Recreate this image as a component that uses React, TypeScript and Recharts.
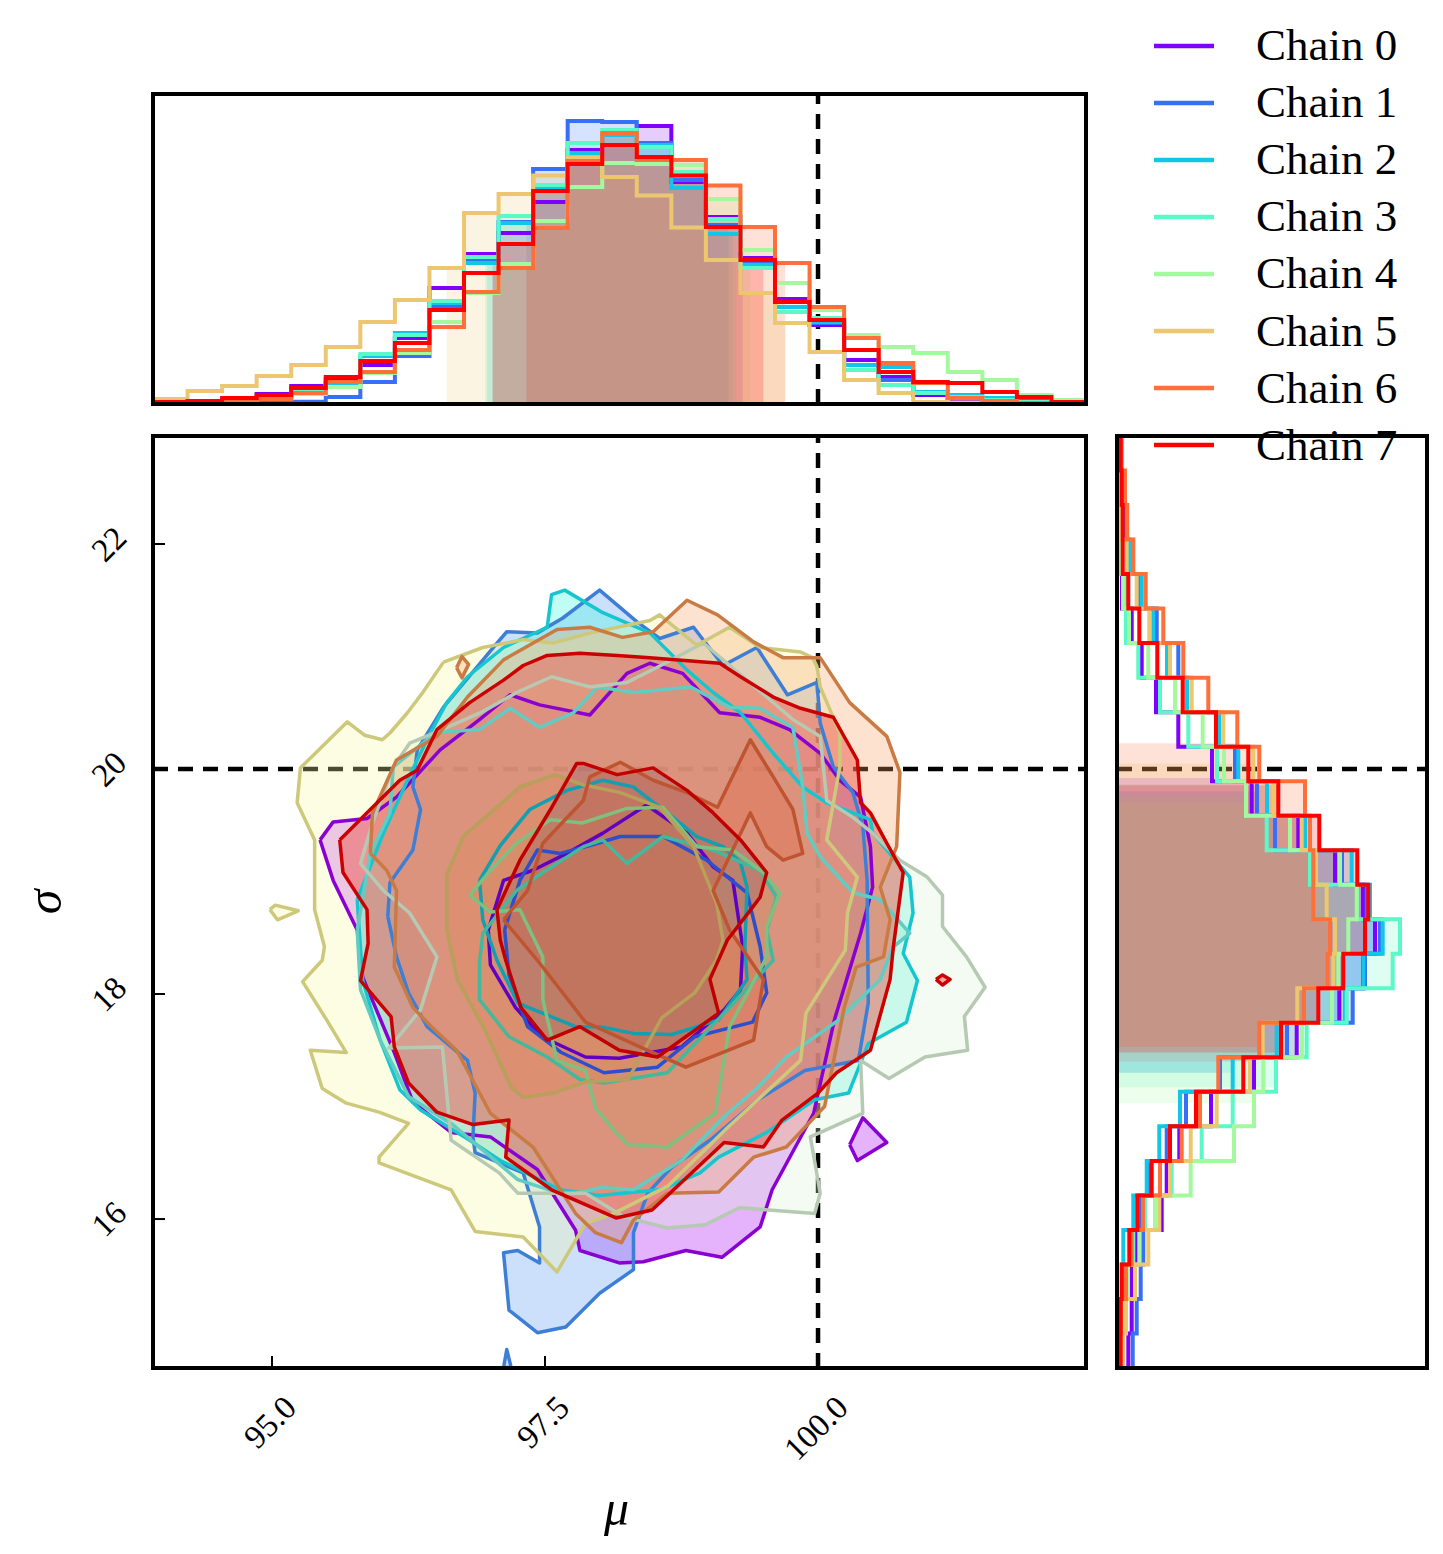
import React from 'react';
import { ScatterChart, Scatter, XAxis, YAxis, ReferenceLine, Legend } from 'recharts';

const SERIF = '"Liberation Serif", "Times New Roman", serif';

// ---------- data ----------
const CHAIN_NAMES = ['Chain 0', 'Chain 1', 'Chain 2', 'Chain 3', 'Chain 4', 'Chain 5', 'Chain 6', 'Chain 7'];
const MU_DOMAIN: [number, number] = [93.91, 102.454];
const SIGMA_DOMAIN: [number, number] = [14.676, 22.96];
const BIN_COUNT = 27;
const MU_TICKS = [95, 97.5, 100];
const SIGMA_TICKS = [16, 18, 20, 22];
const TRUTH_MU = 100;
const TRUTH_SIGMA = 20;
const COUNT_MAX = 310;

// marginal of mu, 27 bins from left to right
const muHist0 = [0.5, 1, 4, 10, 18, 25, 39, 66, 116, 150, 171, 202, 254, 269, 278, 222, 187, 146, 105, 79, 44, 27, 9, 2, 2, 1, 0];
const muHist1 = [0.5, 1, 2, 2, 2.3, 7, 22, 48, 97, 144, 182, 235, 283, 282, 261, 224, 179, 142, 102, 81, 39, 24, 12, 6, 5, 3, 1];
const muHist2 = [0.5, 1, 2, 7, 12, 21, 48, 71, 101, 141, 181, 217, 251, 269, 259, 216, 170, 139, 97, 82, 39, 37, 12, 9, 6, 2, 0.5];
const muHist3 = [0.5, 1, 2, 7, 12, 22, 50, 69, 103, 147, 188, 219, 261, 274, 257, 232, 185, 136, 92, 86, 34, 19, 11, 7, 4, 2, 0.5];
const muHist4 = [0.5, 1, 1.5, 5, 10, 17, 31, 51, 82, 111, 140, 183, 217, 241, 240, 239, 205, 154, 121, 94, 69, 57, 51, 32, 24, 9, 4];
const muHist5 = [5, 13, 18, 28, 39, 57, 82, 104, 136, 191, 210, 228.5, 246, 227, 208.5, 176.5, 144, 111, 81, 52, 24, 11, 2, 1.5, 1, 0.5, 0.5];
const muHist6 = [0.5, 2, 3, 5, 11, 22, 32, 54, 77, 112, 136, 176, 243, 271, 244, 244, 218.5, 177, 141, 97, 66, 41, 21, 6, 3, 1, 0.5];
const muHist7 = [2, 3, 6, 9, 16, 27, 43, 61, 94, 131, 160, 213, 240, 259, 247, 228.5, 177, 144, 102, 84, 54, 32, 22, 21, 12, 7, 2];

// marginal of sigma, 27 bins from bottom to top
const sigmaHist0 = [11.3, 14.7, 14.7, 19.7, 44.7, 49.7, 62.3, 94, 137, 179.7, 222.3, 246, 258, 246, 218, 181.3, 134.7, 95, 61.3, 39, 24.7, 14.7, 5, 4, 3, 2, 1];
const sigmaHist1 = [15.7, 19.7, 23.7, 26.3, 23, 33, 49.7, 69, 103, 170, 235.7, 248, 263, 249.7, 225, 158, 140, 118, 100, 69.7, 61.3, 39.7, 22, 11, 7, 3, 1.5];
const sigmaHist2 = [3, 4, 5, 6.3, 16.3, 29.7, 42.3, 63, 115.7, 159.7, 228, 246.3, 265.7, 253, 234.7, 188, 150, 121.3, 102.3, 70, 50, 36.3, 24.7, 13, 5, 3, 1.5];
const sigmaHist3 = [3, 5, 10, 16.3, 28, 54.7, 84.7, 115.7, 159, 189.7, 229.7, 275.7, 283, 240, 193, 149.7, 129, 100, 71.3, 43, 21.3, 9, 8, 4, 3, 2, 1];
const sigmaHist4 = [3, 5, 11, 22.3, 38, 73.7, 117, 137, 146.3, 185, 215, 221.3, 231.3, 239.7, 223, 173, 129, 107, 85.7, 58, 31.3, 12, 6, 5, 3, 2, 1];
const sigmaHist5 = [6.3, 9, 18, 31.3, 42.3, 53, 73.7, 99.7, 133, 145.7, 180.3, 216.3, 218, 209.7, 199, 184.7, 156.3, 136.3, 106.3, 74.7, 53, 32.3, 19.7, 9.7, 4, 3, 2];
const sigmaHist6 = [2, 4, 9, 14.7, 26, 43, 64.7, 83, 101.3, 142.3, 187, 210.7, 213, 196.3, 196.3, 193, 188, 142.3, 120.3, 91.3, 66.3, 46.3, 28.7, 16.3, 10.3, 8, 4.7];
const sigmaHist7 = [3.7, 3.7, 4.7, 12.3, 20.3, 34.7, 53, 79, 126.3, 164, 201.3, 226.3, 248, 251.3, 240.3, 202.3, 161.3, 131.3, 99, 65.7, 40.3, 22.3, 11.3, 5.7, 5.7, 4.7, 3.7];

// shaded credible intervals of the marginals
const muLo = [97.02, 97.33, 96.97, 96.95, 97.02, 96.6, 97.33, 97.02];
const muHi = [99.31, 99.18, 99.22, 99.25, 99.38, 99.7, 99.7, 99.5];
const sigmaLo = [17.4, 17.3, 17.3, 17.17, 17.03, 17.4, 17.53, 17.48];
const sigmaHi = [19.92, 19.8, 19.85, 19.75, 19.7, 20.05, 20.23, 19.86];

// 2D contours [mu, sigma]
const c0Outer = [[95.44, 19.37], [95.56, 19.53], [95.87, 19.56], [96.14, 19.75], [96.54, 20.17], [96.9, 20.44], [97.18, 20.66], [97.45, 20.57], [97.91, 20.48], [98.25, 20.85], [98.46, 20.94], [98.76, 20.85], [99.1, 20.5], [99.47, 20.46], [99.74, 20.35], [100.02, 20.14], [100.2, 19.9], [100.39, 19.75], [100.48, 19.31], [100.5, 18.95], [100.39, 18.54], [100.15, 17.77], [99.96, 16.94], [99.58, 16.26], [99.47, 15.93], [99.12, 15.66], [98.79, 15.72], [98.4, 15.62], [98.18, 15.61], [97.82, 15.72], [97.78, 15.9], [97.43, 16.44], [97.0, 16.73], [96.64, 16.77], [96.29, 17.04], [96.12, 17.48], [95.83, 18.15], [95.78, 18.57], [95.56, 19.01]];
const c0Inner = [[96.98, 18.57], [97.12, 19.01], [97.39, 19.1], [97.7, 19.25], [98.03, 19.43], [98.43, 19.68], [98.8, 19.43], [99.04, 19.13], [99.22, 19.01], [99.31, 18.42], [99.29, 18.04], [99.14, 17.86], [98.75, 17.53], [98.18, 17.43], [97.87, 17.44], [97.47, 17.62], [97.23, 17.88], [97.0, 18.26]];
const c0Island = [[100.29, 16.66], [100.41, 16.9], [100.63, 16.68], [100.36, 16.52]];
const c1Outer = [[96.06, 18.69], [96.08, 18.99], [96.29, 19.28], [96.36, 19.64], [96.29, 19.84], [96.33, 20.17], [96.57, 20.55], [96.75, 20.76], [97.06, 21.12], [97.15, 21.22], [97.43, 21.21], [97.66, 21.34], [98.0, 21.59], [98.34, 21.31], [98.55, 21.16], [98.86, 21.26], [99.13, 20.92], [99.44, 21.08], [99.72, 20.66], [99.99, 20.77], [100.02, 20.41], [100.14, 20.02], [100.32, 19.79], [100.41, 19.49], [100.45, 19.01], [100.46, 17.92], [100.37, 17.41], [99.88, 17.32], [99.45, 17.06], [99.01, 16.7], [98.66, 16.46], [98.44, 16.23], [98.31, 15.88], [98.31, 15.55], [98.0, 15.34], [97.69, 15.04], [97.43, 14.99], [97.17, 15.19], [97.12, 15.7], [97.25, 15.72], [97.45, 15.61], [97.45, 15.93], [97.3, 16.41], [96.86, 16.59], [96.84, 16.73], [96.86, 17.12], [96.79, 17.41], [96.42, 17.71], [96.25, 18.01], [96.14, 18.33]];
const c1Inner = [[97.13, 18.57], [97.27, 19.01], [97.43, 19.28], [97.64, 19.25], [97.91, 19.32], [98.19, 19.4], [98.58, 19.4], [98.98, 19.19], [99.35, 18.9], [99.47, 18.42], [99.53, 18.01], [99.4, 17.75], [98.87, 17.62], [98.53, 17.35], [98.04, 17.3], [97.65, 17.48], [97.34, 17.71], [97.17, 18.17]];
const c1Island = [[97.12, 14.68], [97.15, 14.84], [97.19, 14.68]];
const c2Outer = [[95.78, 18.84], [96.02, 19.43], [96.24, 19.9], [96.45, 20.32], [96.6, 20.59], [96.79, 20.82], [97.12, 21.08], [97.52, 21.26], [97.56, 21.55], [97.68, 21.59], [98.03, 21.39], [98.46, 21.21], [98.8, 20.88], [99.04, 20.68], [99.29, 20.5], [99.59, 20.14], [99.86, 19.84], [100.08, 19.7], [100.48, 19.55], [100.5, 19.43], [100.84, 19.04], [100.87, 18.72], [100.78, 18.36], [100.91, 18.12], [100.81, 17.75], [100.46, 17.56], [100.28, 17.12], [99.97, 17.06], [99.53, 16.77], [99.09, 16.55], [98.92, 16.41], [98.55, 16.26], [98.0, 16.21], [97.64, 16.26], [97.09, 16.52], [96.81, 16.7], [96.36, 16.97], [96.17, 17.15], [95.99, 17.59], [95.83, 18.12]];
const c2Inner = [[96.9, 19.01], [97.09, 19.32], [97.36, 19.64], [97.7, 19.81], [98.03, 19.9], [98.31, 19.84], [98.62, 19.61], [98.89, 19.4], [99.13, 19.31], [99.29, 19.17], [99.35, 18.95], [99.33, 18.42], [99.35, 18.13], [99.09, 17.77], [98.66, 17.64], [98.31, 17.65], [98.0, 17.71], [97.78, 17.71], [97.25, 17.92], [97.06, 18.3], [96.93, 18.66]];
const c3Outer = [[95.78, 18.57], [95.9, 19.25], [96.08, 19.61], [96.11, 20.02], [96.51, 20.33], [96.9, 20.35], [97.18, 20.54], [97.45, 20.37], [97.76, 20.5], [97.98, 20.73], [98.31, 20.68], [98.83, 20.73], [99.19, 20.55], [99.47, 20.54], [99.77, 20.37], [99.86, 19.84], [99.9, 19.43], [100.02, 19.22], [100.32, 18.9], [100.57, 18.84], [100.84, 18.54], [100.69, 18.42], [100.57, 18.13], [100.19, 17.77], [99.71, 17.44], [99.45, 17.17], [99.14, 16.91], [98.75, 16.52], [98.31, 16.26], [98.02, 16.28], [97.69, 16.21], [97.25, 16.35], [96.64, 16.85], [96.25, 17.09], [95.99, 17.59], [95.81, 18.04]];
const c3Inner = [[96.9, 18.28], [96.93, 18.54], [97.24, 18.92], [97.48, 19.08], [97.85, 19.31], [98.03, 19.37], [98.25, 19.16], [98.58, 19.4], [99.04, 19.28], [99.47, 19.1], [99.62, 18.86], [99.53, 18.57], [99.59, 18.3], [99.19, 17.88], [98.62, 17.3], [98.04, 17.21], [97.82, 17.24], [97.52, 17.44], [97.17, 17.62], [96.9, 17.95]];
const c4Outer = [[96.11, 20.02], [96.26, 20.23], [96.51, 20.33], [96.93, 20.51], [97.24, 20.68], [97.56, 20.82], [97.91, 20.73], [98.25, 20.77], [98.52, 20.9], [98.95, 21.12], [99.24, 20.88], [99.53, 20.64], [99.77, 20.44], [100.02, 20.29], [100.08, 19.72], [100.32, 19.57], [100.5, 19.43], [100.75, 19.19], [101.0, 19.04], [101.14, 18.88], [101.14, 18.6], [101.36, 18.33], [101.53, 18.06], [101.34, 17.8], [101.37, 17.5], [100.98, 17.44], [100.65, 17.25], [100.39, 17.41], [100.41, 16.94], [99.93, 16.73], [100.02, 16.23], [99.97, 16.05], [99.28, 16.1], [98.97, 15.95], [98.62, 15.92], [98.22, 16.02], [97.87, 16.23], [97.25, 16.23], [97.08, 16.41], [96.64, 16.7], [96.56, 17.53], [96.07, 17.52], [96.36, 17.86], [96.51, 18.33], [96.26, 18.72], [96.02, 18.92], [95.81, 19.16], [95.92, 19.52]];
const c4Inner = [[96.81, 18.88], [97.0, 19.1], [97.24, 19.34], [97.55, 19.55], [97.84, 19.52], [98.25, 19.65], [98.58, 19.66], [98.89, 19.31], [99.22, 19.28], [99.5, 19.08], [99.65, 18.9], [99.53, 18.6], [99.53, 18.33], [99.19, 17.71], [99.06, 16.94], [98.62, 16.64], [98.26, 16.66], [98.13, 16.79], [97.96, 16.99], [97.87, 17.32], [97.61, 17.41], [97.48, 17.95], [97.48, 18.33], [97.27, 18.75], [97.0, 18.73]];
const c5Outer = [[96.57, 20.95], [96.93, 21.08], [97.3, 21.15], [97.57, 21.12], [97.92, 21.21], [98.46, 21.32], [98.55, 21.37], [98.89, 21.1], [99.19, 21.26], [99.47, 21.08], [99.84, 21.04], [99.95, 20.99], [99.99, 20.91], [100.02, 20.73], [100.2, 20.32], [100.2, 20.02], [100.08, 19.37], [100.36, 19.04], [100.27, 18.72], [100.25, 18.39], [99.89, 17.83], [99.84, 17.41], [99.18, 16.82], [98.62, 16.29], [98.13, 16.05], [97.87, 15.96], [97.61, 15.53], [97.3, 15.84], [96.86, 15.89], [96.64, 16.26], [95.98, 16.5], [95.98, 16.55], [96.25, 16.85], [95.98, 16.95], [95.68, 17.03], [95.46, 17.16], [95.35, 17.5], [95.68, 17.48], [95.5, 17.77], [95.28, 18.11], [95.46, 18.3], [95.48, 18.42], [95.39, 18.75], [95.39, 19.37], [95.23, 19.7], [95.26, 20.01], [95.69, 20.42], [95.85, 20.3], [96.01, 20.26], [96.08, 20.32], [96.24, 20.5], [96.38, 20.68]];
const c5Inner = [[96.6, 19.06], [96.75, 19.4], [97.0, 19.61], [97.27, 19.84], [97.59, 19.95], [97.85, 19.86], [98.19, 19.79], [98.55, 19.66], [98.86, 19.31], [99.07, 18.81], [99.13, 18.48], [99.07, 18.3], [98.87, 18.01], [98.57, 17.79], [98.26, 17.24], [97.87, 17.22], [97.58, 17.12], [97.3, 17.08], [97.19, 17.17], [96.95, 17.68], [96.7, 18.12], [96.6, 18.57]];
const c5Island = [[94.98, 18.75], [95.03, 18.79], [95.24, 18.74], [95.05, 18.66]];
const c6Outer = [[95.9, 19.25], [95.92, 19.61], [96.14, 20.08], [96.51, 20.29], [96.79, 20.64], [97.12, 20.97], [97.61, 21.24], [97.91, 21.26], [98.21, 21.17], [98.49, 21.22], [98.8, 21.5], [99.08, 21.37], [99.41, 21.13], [99.68, 20.99], [100.02, 20.99], [100.29, 20.59], [100.63, 20.29], [100.75, 19.97], [100.72, 19.31], [100.57, 18.95], [100.66, 18.66], [100.6, 18.33], [100.35, 18.24], [100.24, 17.88], [100.06, 17.0], [99.71, 16.64], [99.41, 16.55], [99.09, 16.24], [98.62, 16.23], [98.31, 15.99], [98.2, 15.79], [97.96, 15.88], [97.78, 16.05], [97.39, 16.64], [97.0, 16.94], [96.69, 17.5], [96.46, 17.71], [96.29, 17.88], [96.12, 18.24], [96.14, 18.92], [96.05, 19.1]];
const c6Inner = [[97.12, 18.66], [97.34, 18.92], [97.48, 19.34], [97.85, 19.72], [97.91, 19.93], [98.19, 20.06], [98.49, 19.9], [98.8, 19.79], [99.08, 19.66], [99.38, 20.26], [99.59, 19.93], [99.77, 19.64], [99.86, 19.25], [99.68, 19.19], [99.53, 19.31], [99.38, 19.61], [99.04, 18.92], [99.19, 18.57], [99.5, 18.13], [99.41, 17.59], [98.79, 17.35], [98.44, 17.5], [97.87, 17.75], [97.43, 18.3]];
const c6Island = [[96.69, 20.9], [96.74, 21.0], [96.8, 20.93], [96.74, 20.81]];
const c7Outer = [[95.62, 19.37], [95.9, 19.64], [96.17, 19.9], [96.33, 19.99], [96.51, 20.35], [96.81, 20.59], [97.12, 20.79], [97.3, 20.92], [97.52, 21.01], [97.82, 21.03], [98.16, 21.01], [98.46, 20.99], [99.1, 20.94], [99.29, 20.82], [99.59, 20.64], [99.84, 20.54], [100.14, 20.46], [100.36, 20.08], [100.39, 19.7], [100.48, 19.61], [100.63, 19.34], [100.78, 19.08], [100.69, 18.42], [100.66, 18.13], [100.48, 17.5], [100.17, 17.3], [100.0, 17.12], [99.67, 16.88], [99.5, 16.64], [99.14, 16.68], [98.48, 16.08], [98.15, 16.01], [97.56, 16.26], [97.14, 16.55], [97.17, 16.88], [96.84, 16.84], [96.51, 16.95], [96.25, 17.21], [96.12, 17.53], [96.09, 17.8], [95.81, 18.12], [95.88, 18.45], [95.87, 18.75], [95.65, 19.08]];
const c7Inner = [[97.06, 18.75], [97.27, 19.19], [97.55, 19.64], [97.79, 20.05], [97.85, 20.05], [98.16, 19.95], [98.49, 20.01], [98.8, 19.81], [99.04, 19.61], [99.29, 19.37], [99.53, 19.08], [99.47, 18.86], [99.4, 18.77], [99.17, 18.48], [99.01, 18.13], [99.09, 17.83], [98.53, 17.44], [98.18, 17.5], [97.82, 17.71], [97.52, 17.59], [97.28, 17.88], [97.14, 18.3], [97.09, 18.48]];
const c7Island = [[101.08, 18.13], [101.14, 18.17], [101.21, 18.13], [101.14, 18.08]];

// ---------- styles ----------
const LINE_COLORS = ['#8000ff', '#376ff9', '#12c7e6', '#5bf9c7', '#a4f99f', '#edc76f', '#ff6f39', '#ff0000'];
const EDGE_OUTER = ['#8a00d2', '#3d7fd6', '#16c6cf', '#62cbc2', '#b6c9b2', '#cec87a', '#c97b43', '#cc0000'];
const EDGE_INNER = ['#6000c0', '#2d4fcc', '#129fb0', '#43b89c', '#7fbf7f', '#b89f5a', '#bf5530', '#c00000'];
const FILL_OUTER = ['rgb(170,0,245)', 'rgb(85,152,245)', 'rgb(45,250,220)', 'rgb(90,230,200)', 'rgb(218,243,212)', 'rgb(250,250,165)', 'rgb(250,160,95)', 'rgb(235,90,80)'];
const FILL_INNER = ['rgb(120,0,220)', 'rgb(40,100,230)', 'rgb(0,200,210)', 'rgb(40,200,160)', 'rgb(120,200,120)', 'rgb(210,190,90)', 'rgb(220,110,50)', 'rgb(120,80,100)'];
const ALPHA_OUTER = [0.3, 0.3, 0.3, 0.3, 0.3, 0.3, 0.3, 0.5];
const ALPHA_INNER = [0.3, 0.3, 0.3, 0.3, 0.3, 0.3, 0.3, 0.25];

// ---------- layout (page pixels) ----------
const PAGE_W = 1443;
const PAGE_H = 1554;
const TOP_CHART_H = 420;
const PLOT_L = 153;
const PLOT_R = 1086;
const HIST_T = 94;
const HIST_B = 404;
const MAIN_T = 436;
const MAIN_B = 1368;
const SIDE_L = 1117;
const SIDE_R = 1427;
const MAIN_CHART_W = 1100;
const MAIN_CHART_H = PAGE_H - TOP_CHART_H;
const HIST_STROKE = 4;
const CONTOUR_STROKE = 3.5;
const TICK_FONT = 33;
const DASH = { stroke: '#000', strokeWidth: 4.5, strokeDasharray: '15 10' };

const MU_HISTS = [muHist0, muHist1, muHist2, muHist3, muHist4, muHist5, muHist6, muHist7];
const SIGMA_HISTS = [sigmaHist0, sigmaHist1, sigmaHist2, sigmaHist3, sigmaHist4, sigmaHist5, sigmaHist6, sigmaHist7];
const CONTOURS = [
  { outer: c0Outer, inner: c0Inner, islands: [c0Island] },
  { outer: c1Outer, inner: c1Inner, islands: [c1Island] },
  { outer: c2Outer, inner: c2Inner, islands: [] },
  { outer: c3Outer, inner: c3Inner, islands: [] },
  { outer: c4Outer, inner: c4Inner, islands: [] },
  { outer: c5Outer, inner: c5Inner, islands: [c5Island] },
  { outer: c6Outer, inner: c6Inner, islands: [c6Island] },
  { outer: c7Outer, inner: c7Inner, islands: [c7Island] },
];

const edgesOf = (domain: [number, number]) =>
  Array.from({ length: BIN_COUNT + 1 }, (_, i) => domain[0] + ((domain[1] - domain[0]) * i) / BIN_COUNT);
const MU_EDGES = edgesOf(MU_DOMAIN);
const SIGMA_EDGES = edgesOf(SIGMA_DOMAIN);

// step outline of a histogram: [position, count] pairs
function stepOutline(edges: number[], counts: number[]) {
  const pts: number[][] = [[edges[0], 0]];
  counts.forEach((c, i) => {
    pts.push([edges[i], c], [edges[i + 1], c]);
  });
  pts.push([edges[edges.length - 1], 0]);
  return pts;
}

// area under the histogram between lo and hi
function stepFill(edges: number[], counts: number[], lo: number, hi: number) {
  const w = edges[1] - edges[0];
  const at = (v: number) => counts[Math.min(counts.length - 1, Math.max(0, Math.floor((v - edges[0]) / w)))];
  const pts: number[][] = [[lo, 0], [lo, at(lo)]];
  edges.forEach((e, i) => {
    if (e > lo && e < hi) pts.push([e, counts[i - 1]], [e, counts[i]]);
  });
  pts.push([hi, at(hi)], [hi, 0]);
  return pts;
}

const asXY = (pts: number[][]) => pts.map(([x, y]) => ({ x, y }));
const asYX = (pts: number[][]) => pts.map(([y, x]) => ({ x, y }));
const closed = (pts: number[][]) => asXY([...pts, pts[0]]);

const NoDot = () => <g />;

const MuTick = (props: any) => {
  const { x, payload } = props;
  const label = Number(payload.value).toFixed(1);
  const fs = TICK_FONT;
  const w = ((label.length - 1) * 0.5 + 0.25) * fs;
  const half = ((w + 0.66 * fs) * Math.SQRT1_2) / 2;
  const cy = MAIN_B - TOP_CHART_H + 26 + half;
  return (
    <text x={x - 2} y={cy} transform={`rotate(-45 ${x - 2} ${cy})`} textAnchor="middle" dominantBaseline="central"
      fontFamily={SERIF} fontSize={fs} fill="#000">{label}</text>
  );
};

const SigmaTick = (props: any) => {
  const { y, payload } = props;
  const cx = 109;
  return (
    <text x={cx} y={y} transform={`rotate(-45 ${cx} ${y})`} textAnchor="middle" dominantBaseline="central"
      fontFamily={SERIF} fontSize={TICK_FONT} fill="#000">{String(payload.value)}</text>
  );
};

const muLabel = (props: any) => {
  const vb = props.viewBox || { x: PLOT_L, y: MAIN_B - TOP_CHART_H, width: PLOT_R - PLOT_L, height: PAGE_H - MAIN_B };
  return (
    <text x={vb.x + vb.width / 2 - 3} y={vb.y + vb.height - 29} textAnchor="middle" fontFamily={SERIF}
      fontStyle="italic" fontSize={50} fill="#000">μ</text>
  );
};

const sigmaLabel = (props: any) => {
  const vb = props.viewBox || { x: 0, y: MAIN_T - TOP_CHART_H, width: PLOT_L, height: MAIN_B - MAIN_T };
  const cx = 44;
  const cy = vb.y + vb.height / 2;
  return (
    <text x={cx} y={cy} transform={`rotate(-90 ${cx} ${cy})`} textAnchor="middle" dominantBaseline="central"
      fontFamily={SERIF} fontStyle="italic" fontSize={50} fill="#000">σ</text>
  );
};

const LegendBox = (props: any) => {
  const fromChart = (props.payload || [])
    .filter((p: any) => p.type !== 'none' && CHAIN_NAMES.includes(String(p.value)))
    .map((p: any) => ({ name: String(p.value), color: p.color }));
  const items = (fromChart.length ? fromChart : CHAIN_NAMES.map((name, i) => ({ name, color: LINE_COLORS[i] })))
    .sort((a: any, b: any) => CHAIN_NAMES.indexOf(a.name) - CHAIN_NAMES.indexOf(b.name));
  return (
    <div style={{ fontFamily: SERIF, fontSize: 45, color: '#000' }}>
      {items.map((it: any) => (
        <div key={it.name} style={{ display: 'flex', alignItems: 'center', height: 57.1 }}>
          <svg width={60} height={6} style={{ display: 'block' }}>
            <line x1={0} y1={3} x2={60} y2={3} stroke={it.color} strokeWidth={4.5} />
          </svg>
          <span style={{ marginLeft: 42, lineHeight: 1, whiteSpace: 'nowrap' }}>{it.name}</span>
        </div>
      ))}
    </div>
  );
};

const fillScatter = (key: string, data: any[], color: string, opacity: number) => (
  <Scatter key={key} data={data} shape={NoDot} lineType="joint" legendType="none" isAnimationActive={false}
    line={{ stroke: 'none', fill: color, fillOpacity: opacity }} />
);

const lineScatter = (key: string, data: any[], color: string, width: number, name?: string) => (
  <Scatter key={key} name={name} data={data} fill={color} shape={NoDot} lineType="joint"
    legendType={name ? 'line' : 'none'} isAnimationActive={false} strokeWidth={width}
    line={{ stroke: color, strokeWidth: width, strokeLinejoin: name ? 'miter' : 'round', fill: 'none' }} />
);

function TopHistogram() {
  return (
    <ScatterChart width={PAGE_W} height={TOP_CHART_H}
      margin={{ top: HIST_T, right: PAGE_W - PLOT_R, bottom: TOP_CHART_H - HIST_B, left: PLOT_L }}>
      <XAxis type="number" dataKey="x" domain={MU_DOMAIN} allowDataOverflow hide />
      <YAxis type="number" dataKey="y" domain={[0, COUNT_MAX]} allowDataOverflow hide />
      {MU_HISTS.map((counts, i) =>
        fillScatter(`mf${i}`, asXY(stepFill(MU_EDGES, counts, muLo[i], muHi[i])), LINE_COLORS[i], 0.2))}
      {MU_HISTS.map((counts, i) =>
        lineScatter(`ml${i}`, asXY(stepOutline(MU_EDGES, counts)), LINE_COLORS[i], HIST_STROKE, CHAIN_NAMES[i]))}
      <ReferenceLine x={TRUTH_MU} {...DASH} />
      <Legend layout="vertical" align="center" verticalAlign="middle" content={LegendBox}
        wrapperStyle={{ left: 1154, top: 17, width: 280 }} />
    </ScatterChart>
  );
}

function SideHistogram() {
  const w = PAGE_W - MAIN_CHART_W;
  return (
    <ScatterChart width={w} height={MAIN_CHART_H}
      margin={{ top: MAIN_T - TOP_CHART_H, right: w - (SIDE_R - MAIN_CHART_W), bottom: PAGE_H - MAIN_B, left: SIDE_L - MAIN_CHART_W }}>
      <XAxis type="number" dataKey="x" domain={[0, COUNT_MAX]} allowDataOverflow hide />
      <YAxis type="number" dataKey="y" domain={SIGMA_DOMAIN} allowDataOverflow hide />
      {SIGMA_HISTS.map((counts, i) =>
        fillScatter(`sf${i}`, asYX(stepFill(SIGMA_EDGES, counts, sigmaLo[i], sigmaHi[i])), LINE_COLORS[i], 0.2))}
      {SIGMA_HISTS.map((counts, i) =>
        lineScatter(`sl${i}`, asYX(stepOutline(SIGMA_EDGES, counts)), LINE_COLORS[i], HIST_STROKE, CHAIN_NAMES[i]))}
      <ReferenceLine y={TRUTH_SIGMA} {...DASH} />
    </ScatterChart>
  );
}

function MainPanel() {
  const tickLine = { stroke: '#000', strokeWidth: 2 };
  return (
    <ScatterChart width={MAIN_CHART_W} height={MAIN_CHART_H}
      margin={{ top: MAIN_T - TOP_CHART_H - 1, right: MAIN_CHART_W - PLOT_R - 1, bottom: 0, left: 0 }}>
      <XAxis xAxisId={0} type="number" dataKey="x" domain={MU_DOMAIN} allowDataOverflow ticks={MU_TICKS} interval={0}
        height={PAGE_H - MAIN_B} axisLine={false} tickSize={-12} tickMargin={0} tickLine={tickLine} tick={<MuTick />}
        label={muLabel} />
      <XAxis xAxisId="top" orientation="top" type="number" dataKey="x" domain={MU_DOMAIN} allowDataOverflow ticks={MU_TICKS}
        interval={0} height={1} axisLine={false} tickSize={-12} tickLine={tickLine} tick={false} />
      <YAxis yAxisId={0} type="number" dataKey="y" domain={SIGMA_DOMAIN} allowDataOverflow ticks={SIGMA_TICKS} interval={0}
        width={PLOT_L} axisLine={false} tickSize={-12} tickMargin={0} tickLine={tickLine} tick={<SigmaTick />}
        label={sigmaLabel} />
      <YAxis yAxisId="right" orientation="right" type="number" dataKey="y" domain={SIGMA_DOMAIN} allowDataOverflow
        ticks={SIGMA_TICKS} interval={0} width={1} axisLine={false} tickSize={-12} tickLine={tickLine} tick={false} />
      {/* shaded regions first, chain by chain */}
      {CONTOURS.map((c, i) => [
        fillScatter(`fo${i}`, closed(c.outer), FILL_OUTER[i], ALPHA_OUTER[i]),
        ...c.islands.map((isl, k) => fillScatter(`fi${i}-${k}`, closed(isl), FILL_OUTER[i], ALPHA_OUTER[i])),
        fillScatter(`fn${i}`, closed(c.inner), FILL_INNER[i], ALPHA_INNER[i]),
      ])}
      {/* contour lines on top */}
      {CONTOURS.map((c, i) => [
        lineScatter(`lo${i}`, closed(c.outer), EDGE_OUTER[i], CONTOUR_STROKE),
        ...c.islands.map((isl, k) => lineScatter(`li${i}-${k}`, closed(isl), EDGE_OUTER[i], CONTOUR_STROKE)),
        lineScatter(`ln${i}`, closed(c.inner), EDGE_INNER[i], CONTOUR_STROKE),
      ])}
      <ReferenceLine x={TRUTH_MU} {...DASH} />
      <ReferenceLine y={TRUTH_SIGMA} {...DASH} />
    </ScatterChart>
  );
}

const Frame = ({ l, t, r, b }: { l: number; t: number; r: number; b: number }) => (
  <div style={{ position: 'absolute', left: l - 2, top: t - 2, width: r - l + 4, height: b - t + 4,
    border: '4px solid #000', boxSizing: 'border-box', pointerEvents: 'none' }} />
);

export default function App() {
  return (
    <div style={{ position: 'absolute', left: 0, top: 0, width: PAGE_W, height: PAGE_H, background: '#fff', overflow: 'hidden' }}>
      <div style={{ position: 'absolute', left: 0, top: 0 }}>
        <TopHistogram />
      </div>
      <div style={{ position: 'absolute', left: 0, top: TOP_CHART_H }}>
        <MainPanel />
      </div>
      <div style={{ position: 'absolute', left: MAIN_CHART_W, top: TOP_CHART_H }}>
        <SideHistogram />
      </div>
      <Frame l={PLOT_L} t={HIST_T} r={PLOT_R} b={HIST_B} />
      <Frame l={PLOT_L} t={MAIN_T} r={PLOT_R} b={MAIN_B} />
      <Frame l={SIDE_L} t={MAIN_T} r={SIDE_R} b={MAIN_B} />
    </div>
  );
}
